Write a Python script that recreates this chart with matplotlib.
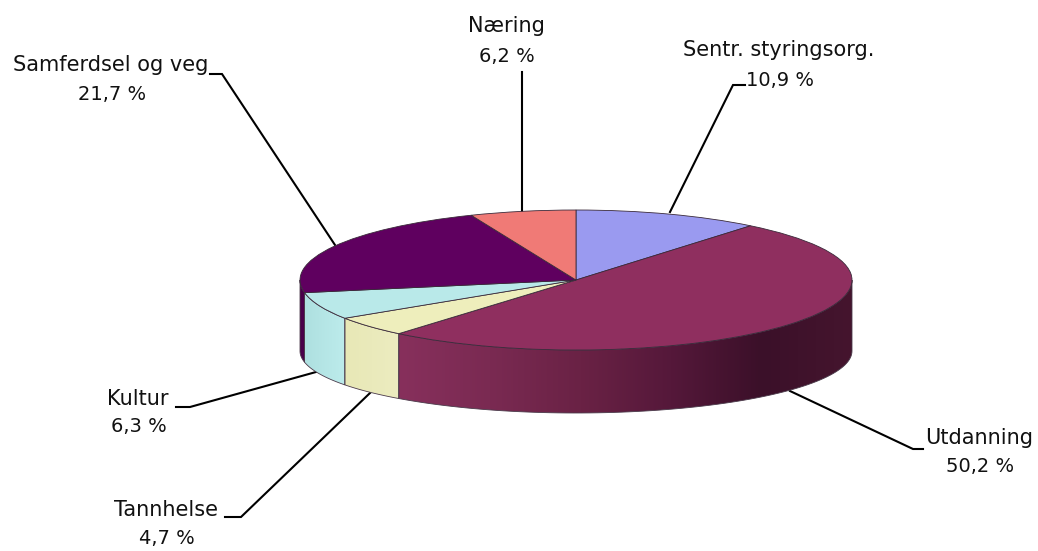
import numpy as np
import matplotlib
matplotlib.use('Agg')
import matplotlib.pyplot as plt
from matplotlib.colors import LinearSegmentedColormap
from matplotlib.patches import Polygon

# andel per sektor, med klokka fra toppen
labels = ['Sentr. styringsorg.', 'Utdanning', 'Tannhelse', 'Kultur', 'Samferdsel og veg', 'Næring']
shares = [10.9, 50.2, 4.7, 6.3, 21.7, 6.2]
share_text = ['10,9 %', '50,2 %', '4,7 %', '6,3 %', '21,7 %', '6,2 %']
colors = ['#9a9af0', '#8f2f5f', '#eeeebc', '#b9e9e9', '#5f005f', '#f07a76']
wall_colors = [['#9a9af0', '#9a9af0'],
               ['#87305c', '#7a2a52', '#6a2245', '#55183a', '#3b1029', '#45152e'],
               ['#e8e8b6', '#ececc0'],
               ['#aee0e0', '#bdecec'],
               ['#4a004a', '#4a004a'],
               ['#f07a76', '#f07a76']]

W, H = 1038, 551
cx, cy, rx, ry = 576, 280, 276, 70
cy2, ry2 = 351, 62

fig = plt.figure(figsize=(W / 100, H / 100), dpi=100)
back = fig.add_axes([0, 0, 1, 1])
back.set_xlim(0, W)
back.set_ylim(H, 0)
back.axis('off')

# sideveggen
edges = 90 - np.cumsum([0] + shares) * 3.6
for i in range(len(shares)):
    a = max(edges[i + 1], -180)
    b = min(edges[i], 0)
    if a >= b:
        continue
    t = np.radians(np.linspace(a, b, 80))
    x = cx + rx * np.cos(t)
    top = cy - ry * np.sin(t)
    bottom = cy2 - ry2 * np.sin(t)
    pts = np.r_[np.c_[x, top], np.c_[x, bottom][::-1]]
    patch = Polygon(pts, closed=True, fc='none', ec='#4a3a4a', lw=0.6, zorder=3)
    back.add_patch(patch)
    cmap = LinearSegmentedColormap.from_list('w', wall_colors[i])
    img = back.imshow(np.linspace(0, 1, 256)[None, :], cmap=cmap, aspect='auto', zorder=2,
                      extent=[x.min(), x.max(), bottom.max() + 2, top.min() - 2])
    img.set_clip_path(patch)
back.set_xlim(0, W)
back.set_ylim(H, 0)

# lederlinjer
leaders = [[(670, 212), (733, 85), (745, 85)],
           [(790, 391), (913, 449), (923, 449)],
           [(370, 393), (241, 517), (225, 517)],
           [(316, 372), (190, 407), (176, 407)],
           [(335, 245), (222, 74), (210, 74)],
           [(522, 213), (522, 72)]]
for line in leaders:
    xs, ys = zip(*line)
    back.plot(xs, ys, color='black', lw=1.5, zorder=1, solid_joinstyle='miter')

# tekst
text_pos = [(779, 50, 80), (979, 438, 466), (166, 510, 539), (138, 399, 427), (111, 65, 95), (506, 26, 56)]
for name, val, (tx, y1, y2) in zip(labels, share_text, text_pos):
    back.text(tx, y1, name, ha='center', va='center', fontsize=15, color='#111111')
    back.text(tx + 1, y2, val, ha='center', va='center', fontsize=14, color='#111111')

# toppflaten
ax = fig.add_axes([0, 0, 1, 1], zorder=5)
ax.patch.set_alpha(0)
ax.pie(shares, colors=colors, startangle=90, counterclock=False,
       wedgeprops={'edgecolor': '#3a2a3a', 'linewidth': 0.6})
ax.set_aspect('auto')
ax.set_xlim(-cx / rx, (W - cx) / rx)
ax.set_ylim((cy - H) / ry, cy / ry)
ax.axis('off')

fig.savefig('out.png', dpi=100)
